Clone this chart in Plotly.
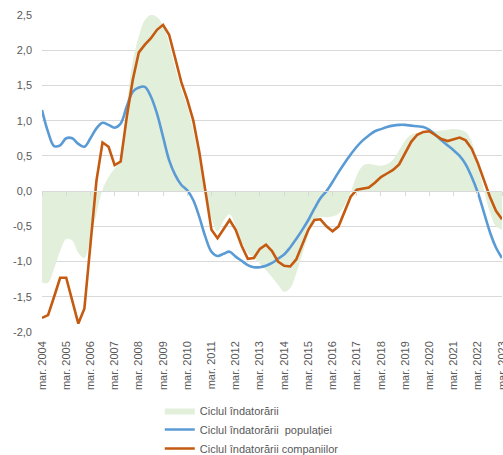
import plotly.graph_objects as go

# Quarterly data, mar. 2004 ... mar. 2023
start_year = 2004
n_quarters = 77

ciclul_total = [
    -1.30, -1.30, -1.10, -0.85, -0.68, -0.70, -0.88, -0.95, -0.68, -0.32,
    0.02, 0.20, 0.32, 0.45, 1.20, 1.85, 2.20, 2.43, 2.50, 2.47,
    2.35, 2.10, 1.75, 1.45, 1.20, 0.85, 0.45, 0.00, -0.38, -0.57,
    -0.42, -0.33, -0.50, -0.72, -0.88, -0.95, -1.03, -1.12, -1.22, -1.33,
    -1.43, -1.38, -1.17, -0.90, -0.62, -0.41, -0.37, -0.37, -0.36, -0.32,
    -0.20, -0.02, 0.22, 0.36, 0.39, 0.37, 0.36, 0.38, 0.45, 0.58,
    0.72, 0.80, 0.83, 0.84, 0.85, 0.85, 0.86, 0.87, 0.88, 0.87,
    0.84, 0.70, 0.38, 0.02, -0.30, -0.50, -0.55,
]

ciclul_populatiei = [
    1.15, 0.84, 0.64, 0.65, 0.75, 0.75, 0.67, 0.63, 0.75, 0.89,
    0.97, 0.94, 0.90, 0.96, 1.20, 1.41, 1.47, 1.48, 1.34, 1.10,
    0.77, 0.44, 0.23, 0.09, 0.01, -0.13, -0.37, -0.65, -0.86, -0.92,
    -0.89, -0.86, -0.93, -0.99, -1.05, -1.08, -1.08, -1.06, -1.02, -0.96,
    -0.90, -0.80, -0.68, -0.55, -0.41, -0.25, -0.10, 0.00, 0.13, 0.27,
    0.40, 0.52, 0.63, 0.72, 0.79, 0.85, 0.88, 0.91, 0.93, 0.94,
    0.94, 0.93, 0.92, 0.91, 0.87, 0.80, 0.72, 0.65, 0.58, 0.50,
    0.38, 0.20, -0.02, -0.30, -0.58, -0.80, -0.95,
]

ciclul_companiilor = [
    -1.80, -1.76, -1.50, -1.23, -1.23, -1.55, -1.88, -1.67, -0.80, 0.15,
    0.69, 0.63, 0.37, 0.42, 1.05, 1.58, 1.97, 2.08, 2.17, 2.29,
    2.36, 2.22, 1.89, 1.55, 1.30, 1.00, 0.55, 0.00, -0.55, -0.67,
    -0.53, -0.41, -0.55, -0.78, -0.96, -0.95, -0.82, -0.76, -0.85, -1.00,
    -1.06, -1.07, -0.97, -0.75, -0.55, -0.41, -0.40, -0.50, -0.57, -0.50,
    -0.30, -0.08, 0.02, 0.03, 0.05, 0.12, 0.20, 0.25, 0.30, 0.38,
    0.53, 0.70, 0.80, 0.84, 0.85, 0.80, 0.74, 0.71, 0.73, 0.76,
    0.72, 0.60, 0.40, 0.15, -0.08, -0.28, -0.40,
]

series_names = [
    "Ciclul îndatorării",
    "Ciclul îndatorării  populației",
    "Ciclul îndatorării companiilor",
]

x_years = [start_year + i / 4 for i in range(n_quarters)]
tick_years = list(range(2004, 2024))
tick_labels = [f"mar. {y}" for y in tick_years]
y_ticks = [-2.0, -1.5, -1.0, -0.5, 0.0, 0.5, 1.0, 1.5, 2.0, 2.5]
y_tick_labels = ["-2,0", "-1,5", "-1,0", "-0,5", "0,0", "0,5", "1,0", "1,5", "2,0", "2,5"]

GRAY_TXT = "#595959"
GRID = "#d9d9d9"
FONT = "Liberation Sans"

fig = go.Figure()
fig.add_trace(go.Scatter(
    x=x_years, y=ciclul_total, name=series_names[0], mode="lines",
    line=dict(width=0, shape="spline", color="rgba(226,239,218,1)"),
    fill="tozeroy", fillcolor="#e2efda",
))
fig.add_trace(go.Scatter(
    x=x_years, y=ciclul_populatiei, name=series_names[1], mode="lines",
    line=dict(width=2.6, shape="spline", color="#5b9bd5"),
))
fig.add_trace(go.Scatter(
    x=x_years, y=ciclul_companiilor, name=series_names[2], mode="lines",
    line=dict(width=2.6, color="#c55a11"),
))

y_min, y_max = -2.0, 2.5
xr = [tick_years[0], tick_years[-1]]

fig.update_layout(
    width=503, height=455,
    margin=dict(l=42, r=1, t=15, b=123, autoexpand=False),
    paper_bgcolor="white", plot_bgcolor="white",
    font=dict(family=FONT, size=11, color=GRAY_TXT),
    showlegend=True,
    legend=dict(
        orientation="v", x=0.256, xanchor="left", y=-0.202, yanchor="top",
        font=dict(family=FONT, size=11, color=GRAY_TXT),
        tracegroupgap=0, itemwidth=30, bgcolor="rgba(0,0,0,0)",
    ),
    xaxis=dict(
        range=xr, tickmode="array", tickvals=tick_years, ticktext=tick_labels,
        tickangle=-90, showgrid=False, showline=False, zeroline=False,
        ticks="", ticklabelstandoff=6, automargin=False,
        ticklabeloverflow="allow",
        tickfont=dict(family=FONT, size=11, color=GRAY_TXT),
    ),
    xaxis2=dict(
        range=xr, overlaying="x", anchor="free",
        position=(0 - y_min) / (y_max - y_min),
        tickmode="array", tickvals=tick_years, showticklabels=False,
        showgrid=False, zeroline=False, showline=True, linecolor=GRID, linewidth=1,
        ticks="outside", ticklen=4, tickcolor=GRID, tickwidth=1,
    ),
    yaxis=dict(
        range=[y_min, y_max], tickmode="array", tickvals=y_ticks, ticktext=y_tick_labels,
        showgrid=True, gridcolor=GRID, gridwidth=1, zeroline=False, showline=False,
        ticklabelstandoff=9, automargin=False,
        tickfont=dict(family=FONT, size=11, color=GRAY_TXT),
    ),
)
# invisible trace so that the zero-line axis (xaxis2) is rendered
fig.add_trace(go.Scatter(x=xr, y=[0, 0], xaxis="x2", yaxis="y", mode="lines",
                         line=dict(width=0), showlegend=False, hoverinfo="skip"))

fig.write_html("out.html", config={"displayModeBar": False},
               post_script="document.body.style.margin='0';")
